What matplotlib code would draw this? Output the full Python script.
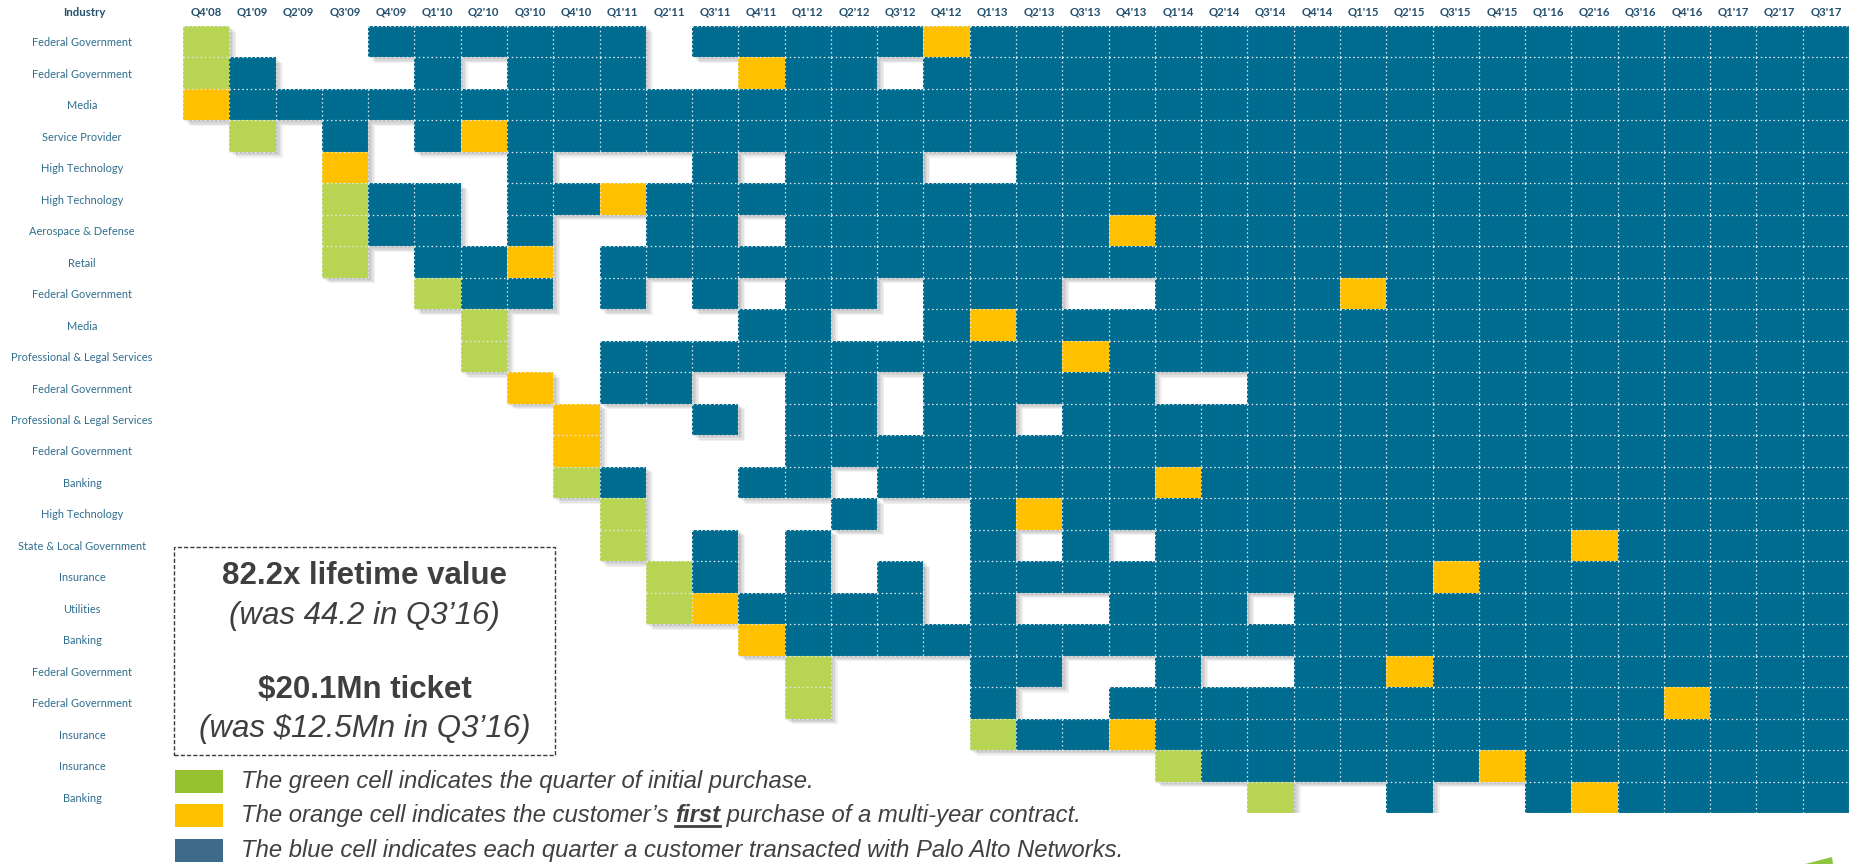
import matplotlib
matplotlib.use("Agg")
import matplotlib.pyplot as plt
from matplotlib import transforms
from matplotlib.patches import Rectangle, Polygon
from matplotlib.lines import Line2D
from matplotlib.collections import LineCollection

# ---------------------------------------------------------------------------
# Data
# ---------------------------------------------------------------------------

QUARTERS = ["Q4'08",
            "Q1'09", "Q2'09", "Q3'09", "Q4'09",
            "Q1'10", "Q2'10", "Q3'10", "Q4'10",
            "Q1'11", "Q2'11", "Q3'11", "Q4'11",
            "Q1'12", "Q2'12", "Q3'12", "Q4'12",
            "Q1'13", "Q2'13", "Q3'13", "Q4'13",
            "Q1'14", "Q2'14", "Q3'14", "Q4'14",
            "Q1'15", "Q2'15", "Q3'15", "Q4'15",
            "Q1'16", "Q2'16", "Q3'16", "Q4'16",
            "Q1'17", "Q2'17", "Q3'17"]

INDUSTRIES = ["Federal Government", "Federal Government", "Media",
              "Service Provider", "High Technology", "High Technology",
              "Aerospace & Defense", "Retail", "Federal Government", "Media",
              "Professional & Legal Services", "Federal Government",
              "Professional & Legal Services", "Federal Government", "Banking",
              "High Technology", "State & Local Government", "Insurance",
              "Utilities", "Banking", "Federal Government", "Federal Government",
              "Insurance", "Insurance", "Banking"]

# one string per customer, grouped by year (Q4'08 | 2009 | ... | 2017)
# g = initial purchase, o = first multi-year contract, b = transacted, . = none
ACTIVITY = [
    "g ...b bbbb b.bb bbbo bbbb bbbb bbbb bbbb bbb",
    "g b... b.bb b..o bb.b bbbb bbbb bbbb bbbb bbb",
    "o bbbb bbbb bbbb bbbb bbbb bbbb bbbb bbbb bbb",
    ". g.b. bobb bbbb bbbb bbbb bbbb bbbb bbbb bbb",
    ". ..o. ..b. ..b. bbb. .bbb bbbb bbbb bbbb bbb",
    ". ..gb b.bb obbb bbbb bbbb bbbb bbbb bbbb bbb",
    ". ..gb b.b. .bb. bbbb bbbo bbbb bbbb bbbb bbb",
    ". ..g. bbo. bbbb bbbb bbbb bbbb bbbb bbbb bbb",
    ". .... gbb. b.b. bb.b bb.. bbbb obbb bbbb bbb",
    ". .... .g.. ...b b..b obbb bbbb bbbb bbbb bbb",
    ". .... .g.. bbbb bbbb bbob bbbb bbbb bbbb bbb",
    ". .... ..o. bb.. bb.b bbbb ..bb bbbb bbbb bbb",
    ". .... ...o ..b. bb.b b.bb bbbb bbbb bbbb bbb",
    ". .... ...o .... bbbb bbbb bbbb bbbb bbbb bbb",
    ". .... ...g b..b b.bb bbbb obbb bbbb bbbb bbb",
    ". .... .... g... .b.. bobb bbbb bbbb bbbb bbb",
    ". .... .... g.b. b... b.b. bbbb bbbb bobb bbb",
    ". .... .... .gb. b.b. bbbb bbbb bbob bbbb bbb",
    ". .... .... .gob bbb. b..b bb.b bbbb bbbb bbb",
    ". .... .... ...o bbbb bbbb bbbb bbbb bbbb bbb",
    ". .... .... .... g... bb.. b..b bobb bbbb bbb",
    ". .... .... .... g... b..b bbbb bbbb bbbo bbb",
    ". .... .... .... .... gbbo bbbb bbbb bbbb bbb",
    ". .... .... .... .... .... gbbb bbbo bbbb bbb",
    ". .... .... .... .... .... ..g. .b.. bobb bbb",
]

LEGEND_TEXT = [
    "The green cell indicates the quarter of initial purchase.",
    "The orange cell indicates the customer\u2019s ",
    "The blue cell indicates each quarter a customer transacted with Palo Alto Networks.",
]

CELL_COLORS = {"g": "#B7D553", "o": "#FFC000", "b": "#006C8F"}
LEGEND_COLORS = ["#97C230", "#FFC000", "#3E6B8A"]

grid = [row.replace(" ", "") for row in ACTIVITY]
for row in grid:
    assert len(row) == len(QUARTERS)
n_rows, n_cols = len(grid), len(QUARTERS)

# ---------------------------------------------------------------------------
# Figure
# ---------------------------------------------------------------------------

W, H = 1860, 864
fig = plt.figure(figsize=(W / 100, H / 100), dpi=100)
fig.patch.set_facecolor("white")

GX0, GX1, GY0, GY1 = 183, 1849, 26, 813
ax = fig.add_axes([GX0 / W, 1 - GY1 / H, (GX1 - GX0) / W, (GY1 - GY0) / H])
ax.set_xlim(0, n_cols)
ax.set_ylim(n_rows, 0)
ax.set_facecolor("none")
for s in ax.spines.values():
    s.set_visible(False)

# drop shadow (several offset layers)
for d in (7, 5.5, 4, 2.5, 1.2):
    tr = transforms.offset_copy(ax.transData, fig=fig, x=d, y=-d * 0.8, units="dots")
    for r, row in enumerate(grid):
        for c, ch in enumerate(row):
            if ch != ".":
                ax.add_patch(Rectangle((c, r), 1, 1, transform=tr, facecolor="black",
                                       alpha=0.055, edgecolor="none",
                                       antialiased=False, zorder=1))

# cells
for r, row in enumerate(grid):
    for c, ch in enumerate(row):
        if ch != ".":
            ax.add_patch(Rectangle((c, r), 1, 1, facecolor=CELL_COLORS[ch],
                                   edgecolor="none", antialiased=False, zorder=2))

# dotted cell borders wherever a coloured cell touches the edge
def filled(r, c):
    return 0 <= r < n_rows and 0 <= c < n_cols and grid[r][c] != "."

segs = []
for r in range(n_rows + 1):
    for c in range(n_cols):
        if filled(r - 1, c) or filled(r, c):
            segs.append([(c, r), (c + 1, r)])
for c in range(n_cols + 1):
    for r in range(n_rows):
        if filled(r, c - 1) or filled(r, c):
            segs.append([(c, r), (c, r + 1)])
ax.add_collection(LineCollection(segs, colors="#E4EBEE", linewidths=0.9,
                                 linestyles=[(0, (1.2, 2.2))], zorder=3))

# axes labels
LABEL_FONT = "Lato"
ax.xaxis.tick_top()
ax.set_xticks([c + 0.5 for c in range(n_cols)])
ax.set_xticklabels(QUARTERS, fontsize=8.2, fontweight="bold", color="#24506E",
                   family=LABEL_FONT)
ax.set_yticks([r + 0.5 for r in range(n_rows)])
ax.set_yticklabels(INDUSTRIES, fontsize=7.9, color="#2F6E8E", family=LABEL_FONT,
                   ha="center")
ax.tick_params(axis="both", length=0)
ax.tick_params(axis="x", pad=6)
ax.tick_params(axis="y", pad=(GX0 - 82) * 0.72)

fig.text(84 / W, 1 - 13 / H, "Industry", fontsize=8.2, fontweight="bold",
         color="#24506E", family=LABEL_FONT, ha="center", va="center")

# ---------------------------------------------------------------------------
# Call-out box
# ---------------------------------------------------------------------------

BX0, BX1, BY0, BY1 = 174, 555, 547, 755
fig.add_artist(Rectangle((BX0 / W, 1 - BY1 / H), (BX1 - BX0) / W, (BY1 - BY0) / H,
                         transform=fig.transFigure, facecolor="white",
                         edgecolor="#3A3A3A", lw=1.0, linestyle=(0, (3, 1.5)),
                         zorder=5))
BOX_FONT = "Liberation Sans"
bx = (BX0 + BX1) / 2 / W
box_lines = [
    ("82.2x lifetime value", "bold", "normal", 576),
    ("(was 44.2 in Q3\u201916)", "normal", "italic", 616),
    ("$20.1Mn ticket", "bold", "normal", 690),
    ("(was $12.5Mn in Q3\u201916)", "normal", "italic", 729),
]
for txt, wt, st, yy in box_lines:
    fig.text(bx, 1 - yy / H, txt, fontsize=22.5, fontweight=wt, style=st,
             color="#3F3F3F", family=BOX_FONT, ha="center", va="center", zorder=6)

# ---------------------------------------------------------------------------
# Legend
# ---------------------------------------------------------------------------

renderer = fig.canvas.get_renderer()
leg_y = [781, 815, 850]
LEG_FS = 17.2
for i, (col, yy) in enumerate(zip(LEGEND_COLORS, leg_y)):
    fig.add_artist(Rectangle((175 / W, 1 - (yy + 11.5) / H), 48 / W, 23 / H,
                             transform=fig.transFigure, facecolor=col,
                             edgecolor="none"))
    base = 1 - (yy + 7) / H
    t = fig.text(241 / W, base, LEGEND_TEXT[i], fontsize=LEG_FS, style="italic",
                 color="#404040", family=BOX_FONT, va="baseline")
    if i == 1:
        bb = t.get_window_extent(renderer)
        t2 = fig.text(bb.x1 / W, base, "first", fontsize=LEG_FS, style="italic",
                      fontweight="bold", color="#404040", family=BOX_FONT,
                      va="baseline")
        bb2 = t2.get_window_extent(renderer)
        fig.add_artist(Line2D([bb2.x0 / W, bb2.x1 / W], [base - 4 / H, base - 4 / H],
                              transform=fig.transFigure, color="#404040", lw=2))
        fig.text(bb2.x1 / W, base, " purchase of a multi-year contract.",
                 fontsize=LEG_FS, style="italic", color="#404040", family=BOX_FONT,
                 va="baseline")

# corner logo fragment
fig.add_artist(Polygon([(1805 / W, 0), (1832 / W, 7 / H), (1833 / W, 0)],
                       transform=fig.transFigure, facecolor="#8DC63F",
                       edgecolor="none"))

fig.savefig("out.png", dpi=100)
